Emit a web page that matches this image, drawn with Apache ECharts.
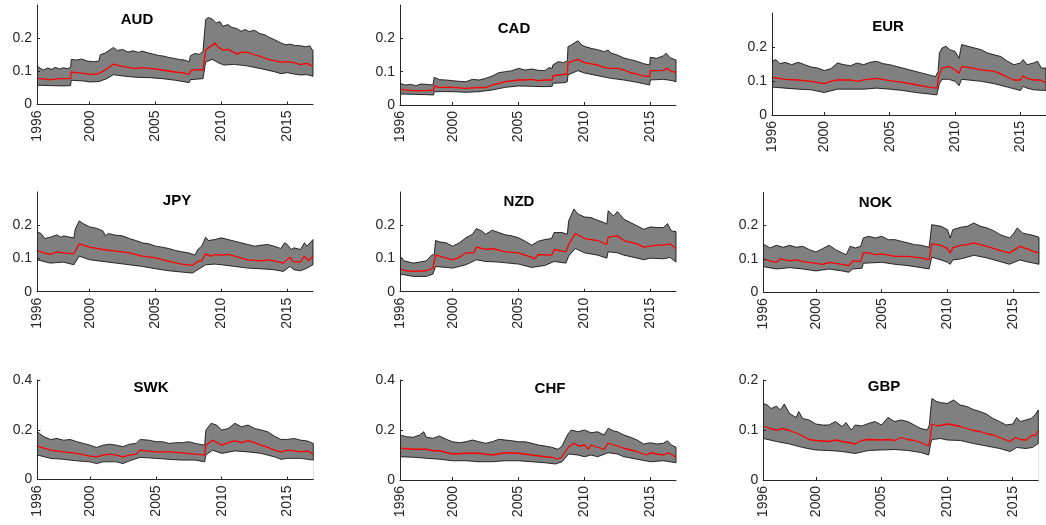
<!DOCTYPE html>
<html>
<head>
<meta charset="utf-8">
<script src="https://cdn.jsdelivr.net/npm/echarts@6/dist/echarts.min.js"></script>
<style>
  html, body { margin: 0; padding: 0; background: #fff; }
  #chart { width: 1046px; height: 525px; }
</style>
</head>
<body>
<div id="chart"></div>
<script>
// Year tick labels shared by every panel
const YEAR_TICKS = [1996, 2000, 2005, 2010, 2015];
const X_START = 1996;
const X_END = 2016.95;

// ---- AUD ----
const AUD_HIGH = [[1996.0,0.116],[1996.3,0.108],[1996.5,0.104],[1996.8,0.110],[1997.1,0.106],[1997.4,0.112],[1997.7,0.107],[1998.0,0.111],[1998.3,0.108],[1998.55,0.112],[1998.6,0.136],[1999.0,0.134],[1999.4,0.137],[1999.8,0.131],[2000.3,0.129],[2000.7,0.131],[2000.8,0.150],[2001.2,0.156],[2001.5,0.164],[2001.8,0.172],[2002.1,0.163],[2002.5,0.166],[2002.9,0.158],[2003.3,0.162],[2003.7,0.157],[2004.0,0.161],[2004.4,0.156],[2004.8,0.152],[2005.2,0.148],[2005.6,0.146],[2006.0,0.142],[2006.4,0.139],[2006.8,0.136],[2007.2,0.134],[2007.55,0.129],[2007.65,0.147],[2008.0,0.154],[2008.3,0.151],[2008.6,0.160],[2008.75,0.165],[2008.8,0.256],[2009.0,0.262],[2009.3,0.258],[2009.6,0.246],[2009.9,0.250],[2010.1,0.236],[2010.5,0.241],[2010.8,0.232],[2011.1,0.230],[2011.5,0.221],[2011.8,0.226],[2012.1,0.220],[2012.5,0.224],[2012.9,0.214],[2013.3,0.210],[2013.6,0.203],[2014.0,0.196],[2014.3,0.190],[2014.6,0.184],[2014.9,0.180],[2015.2,0.182],[2015.6,0.178],[2016.0,0.177],[2016.4,0.174],[2016.7,0.177],[2016.95,0.162]];
const AUD_MID = [[1996.0,0.079],[1996.5,0.077],[1997.0,0.074],[1997.5,0.077],[1998.0,0.078],[1998.55,0.079],[1998.6,0.098],[1999.0,0.096],[1999.5,0.094],[2000.0,0.091],[2000.6,0.092],[2001.0,0.100],[2001.4,0.110],[2001.8,0.122],[2002.2,0.117],[2002.6,0.114],[2003.0,0.111],[2003.5,0.109],[2004.0,0.111],[2004.5,0.109],[2005.0,0.107],[2005.5,0.104],[2006.0,0.101],[2006.5,0.098],[2007.0,0.096],[2007.55,0.091],[2007.65,0.102],[2008.0,0.105],[2008.6,0.104],[2008.75,0.108],[2008.8,0.164],[2009.2,0.176],[2009.5,0.185],[2009.8,0.172],[2010.1,0.164],[2010.5,0.166],[2010.9,0.158],[2011.2,0.152],[2011.5,0.158],[2012.0,0.157],[2012.5,0.150],[2013.0,0.144],[2013.5,0.137],[2014.0,0.132],[2014.5,0.128],[2015.0,0.129],[2015.5,0.126],[2016.0,0.120],[2016.5,0.124],[2016.95,0.115]];
const AUD_LOW = [[1996.0,0.058],[1997.0,0.057],[1998.0,0.056],[1998.55,0.057],[1998.6,0.073],[1999.5,0.071],[2000.0,0.068],[2000.7,0.069],[2001.3,0.078],[2001.8,0.090],[2002.5,0.086],[2003.5,0.082],[2004.5,0.081],[2005.5,0.078],[2006.5,0.073],[2007.55,0.066],[2007.65,0.075],[2008.6,0.078],[2008.75,0.082],[2008.8,0.128],[2009.3,0.136],[2009.8,0.125],[2010.2,0.119],[2011.0,0.121],[2012.0,0.116],[2013.0,0.108],[2014.0,0.099],[2014.5,0.093],[2015.0,0.096],[2015.5,0.092],[2016.0,0.089],[2016.5,0.090],[2016.95,0.085]];

// ---- CAD ----
const CAD_HIGH = [[1996.0,0.065],[1996.4,0.060],[1996.8,0.062],[1997.2,0.058],[1997.6,0.063],[1998.0,0.062],[1998.5,0.060],[1998.55,0.062],[1998.6,0.083],[1999.0,0.076],[1999.5,0.075],[2000.0,0.073],[2000.5,0.071],[2001.0,0.070],[2001.5,0.077],[2002.0,0.075],[2002.5,0.080],[2003.0,0.087],[2003.5,0.097],[2004.0,0.100],[2004.5,0.103],[2005.0,0.110],[2005.5,0.105],[2006.0,0.108],[2006.5,0.104],[2007.0,0.103],[2007.3,0.112],[2007.55,0.110],[2007.6,0.120],[2008.0,0.130],[2008.4,0.127],[2008.7,0.132],[2008.75,0.175],[2009.0,0.180],[2009.5,0.193],[2009.8,0.180],[2010.0,0.176],[2010.5,0.170],[2011.0,0.166],[2011.5,0.160],[2011.8,0.165],[2012.0,0.156],[2012.5,0.150],[2013.0,0.141],[2013.5,0.136],[2014.0,0.131],[2014.5,0.124],[2014.95,0.120],[2015.0,0.143],[2015.5,0.140],[2016.0,0.148],[2016.2,0.155],[2016.5,0.142],[2016.95,0.135]];
const CAD_MID = [[1996.0,0.047],[1997.0,0.043],[1998.0,0.043],[1998.55,0.045],[1998.6,0.057],[1999.0,0.053],[2000.0,0.053],[2001.0,0.050],[2002.0,0.053],[2002.5,0.052],[2003.0,0.060],[2003.5,0.065],[2004.0,0.070],[2005.0,0.075],[2005.5,0.075],[2006.0,0.077],[2006.5,0.073],[2007.0,0.075],[2007.55,0.075],[2007.6,0.087],[2008.0,0.090],[2008.7,0.093],[2008.75,0.127],[2009.0,0.130],[2009.5,0.137],[2010.0,0.127],[2011.0,0.120],[2011.5,0.113],[2012.0,0.110],[2012.5,0.110],[2013.0,0.105],[2013.5,0.097],[2014.0,0.093],[2014.5,0.087],[2014.95,0.085],[2015.0,0.103],[2015.5,0.103],[2016.0,0.104],[2016.3,0.110],[2016.5,0.103],[2016.95,0.097]];
const CAD_LOW = [[1996.0,0.033],[1997.0,0.032],[1998.0,0.031],[1998.55,0.030],[1998.6,0.040],[2000.0,0.040],[2001.0,0.038],[2002.0,0.040],[2003.0,0.045],[2004.0,0.053],[2005.0,0.057],[2006.0,0.056],[2007.0,0.055],[2007.55,0.056],[2007.6,0.065],[2008.5,0.067],[2008.7,0.070],[2008.75,0.090],[2009.5,0.103],[2010.0,0.096],[2011.0,0.088],[2012.0,0.080],[2013.0,0.075],[2014.0,0.068],[2014.95,0.060],[2015.0,0.075],[2016.0,0.077],[2016.5,0.074],[2016.95,0.070]];

// ---- EUR ----
const EUR_HIGH = [[1996.0,0.158],[1996.3,0.163],[1996.6,0.151],[1997.0,0.155],[1997.5,0.148],[1998.0,0.155],[1998.5,0.148],[1999.0,0.141],[1999.5,0.138],[2000.0,0.131],[2000.5,0.136],[2001.0,0.153],[2001.5,0.148],[2002.0,0.145],[2002.5,0.153],[2003.0,0.148],[2003.5,0.155],[2004.0,0.158],[2004.5,0.151],[2005.0,0.148],[2005.5,0.143],[2006.0,0.138],[2006.5,0.133],[2007.0,0.128],[2007.5,0.123],[2008.0,0.118],[2008.5,0.113],[2008.7,0.128],[2008.8,0.182],[2009.0,0.197],[2009.3,0.202],[2009.6,0.192],[2010.0,0.187],[2010.3,0.167],[2010.5,0.207],[2011.0,0.202],[2011.5,0.197],[2012.0,0.192],[2012.5,0.182],[2013.0,0.177],[2013.5,0.172],[2014.0,0.158],[2014.5,0.148],[2015.0,0.153],[2015.2,0.163],[2015.5,0.148],[2016.0,0.153],[2016.3,0.158],[2016.6,0.138],[2016.95,0.138]];
const EUR_MID = [[1996.0,0.111],[1997.0,0.105],[1998.0,0.103],[1999.0,0.099],[2000.0,0.092],[2000.5,0.099],[2001.0,0.103],[2002.0,0.103],[2002.5,0.099],[2003.0,0.103],[2004.0,0.108],[2005.0,0.101],[2006.0,0.096],[2007.0,0.089],[2008.0,0.082],[2008.6,0.079],[2008.75,0.115],[2009.0,0.138],[2009.5,0.143],[2010.0,0.133],[2010.3,0.123],[2010.5,0.143],[2011.0,0.140],[2012.0,0.133],[2013.0,0.128],[2013.5,0.121],[2014.0,0.111],[2014.5,0.103],[2015.0,0.103],[2015.2,0.115],[2015.5,0.108],[2016.0,0.103],[2016.5,0.103],[2016.95,0.094]];
const EUR_LOW = [[1996.0,0.082],[1997.0,0.079],[1998.0,0.076],[1999.0,0.074],[2000.0,0.066],[2001.0,0.076],[2002.0,0.076],[2003.0,0.076],[2004.0,0.079],[2005.0,0.076],[2006.0,0.072],[2007.0,0.066],[2008.0,0.062],[2008.6,0.059],[2008.8,0.092],[2009.0,0.105],[2009.5,0.105],[2010.0,0.099],[2010.3,0.086],[2010.5,0.105],[2011.0,0.103],[2012.0,0.099],[2013.0,0.092],[2014.0,0.082],[2015.0,0.072],[2015.2,0.084],[2015.5,0.079],[2016.0,0.074],[2016.95,0.072]];

// ---- JPY ----
const JPY_HIGH = [[1996.0,0.181],[1996.3,0.175],[1996.6,0.160],[1997.0,0.164],[1997.5,0.171],[1997.8,0.164],[1998.0,0.168],[1998.5,0.164],[1998.8,0.162],[1998.9,0.188],[1999.2,0.213],[1999.5,0.205],[2000.0,0.195],[2000.5,0.191],[2001.0,0.183],[2001.2,0.168],[2001.4,0.175],[2002.0,0.170],[2002.5,0.168],[2003.0,0.160],[2003.5,0.154],[2004.0,0.147],[2004.5,0.144],[2005.0,0.137],[2005.5,0.134],[2006.0,0.130],[2006.5,0.124],[2007.0,0.120],[2007.5,0.117],[2008.0,0.110],[2008.2,0.127],[2008.5,0.137],[2008.8,0.164],[2009.0,0.154],[2009.5,0.157],[2010.0,0.162],[2010.5,0.157],[2011.0,0.152],[2011.5,0.147],[2012.0,0.142],[2012.5,0.137],[2013.0,0.140],[2013.5,0.142],[2014.0,0.137],[2014.5,0.130],[2014.8,0.147],[2015.0,0.142],[2015.3,0.127],[2015.5,0.132],[2016.0,0.127],[2016.3,0.147],[2016.5,0.137],[2016.95,0.157]];
const JPY_MID = [[1996.0,0.124],[1996.5,0.117],[1997.0,0.112],[1997.5,0.120],[1998.0,0.117],[1998.8,0.114],[1999.2,0.144],[1999.5,0.140],[2000.0,0.134],[2001.0,0.127],[2002.0,0.122],[2003.0,0.117],[2004.0,0.107],[2005.0,0.102],[2006.0,0.091],[2007.0,0.083],[2007.8,0.079],[2008.2,0.091],[2008.5,0.093],[2008.8,0.114],[2009.2,0.107],[2009.5,0.112],[2010.0,0.110],[2010.5,0.112],[2011.0,0.107],[2012.0,0.096],[2013.0,0.093],[2013.5,0.096],[2014.0,0.093],[2014.7,0.086],[2015.2,0.104],[2015.4,0.091],[2016.0,0.089],[2016.3,0.107],[2016.6,0.093],[2016.95,0.107]];
const JPY_LOW = [[1996.0,0.096],[1997.0,0.086],[1998.0,0.089],[1998.8,0.081],[1999.2,0.107],[2000.0,0.096],[2001.0,0.091],[2002.0,0.086],[2003.0,0.081],[2004.0,0.076],[2005.0,0.069],[2006.0,0.063],[2007.0,0.059],[2007.8,0.056],[2008.2,0.066],[2008.8,0.081],[2009.5,0.083],[2010.0,0.081],[2011.0,0.076],[2012.0,0.071],[2013.0,0.069],[2014.0,0.066],[2014.7,0.061],[2015.2,0.076],[2015.5,0.066],[2016.0,0.063],[2016.5,0.071],[2016.95,0.081]];

// ---- NZD ----
const NZD_HIGH = [[1996.0,0.107],[1996.3,0.093],[1996.7,0.089],[1997.0,0.086],[1997.5,0.089],[1998.0,0.093],[1998.4,0.110],[1998.6,0.112],[1998.7,0.154],[1999.0,0.150],[1999.5,0.147],[2000.0,0.137],[2000.5,0.147],[2001.0,0.162],[2001.5,0.173],[2001.8,0.190],[2002.2,0.183],[2002.5,0.173],[2003.0,0.185],[2003.5,0.178],[2004.0,0.171],[2004.5,0.168],[2005.0,0.162],[2005.5,0.152],[2006.0,0.140],[2006.5,0.152],[2007.0,0.157],[2007.5,0.160],[2007.7,0.178],[2008.3,0.178],[2008.7,0.173],[2008.8,0.213],[2009.2,0.249],[2009.5,0.234],[2010.0,0.225],[2010.5,0.223],[2011.0,0.215],[2011.5,0.208],[2011.7,0.203],[2011.8,0.244],[2012.2,0.228],[2012.5,0.241],[2013.0,0.218],[2013.5,0.208],[2014.0,0.198],[2014.5,0.188],[2015.0,0.195],[2015.5,0.193],[2016.0,0.193],[2016.3,0.205],[2016.6,0.183],[2016.95,0.181]];
const NZD_MID = [[1996.0,0.069],[1996.5,0.063],[1997.0,0.061],[1998.0,0.063],[1998.5,0.071],[1998.7,0.110],[1999.0,0.107],[2000.0,0.096],[2000.5,0.103],[2001.0,0.117],[2001.6,0.117],[2001.8,0.134],[2002.5,0.127],[2003.0,0.130],[2004.0,0.120],[2005.0,0.117],[2006.0,0.103],[2006.2,0.099],[2006.5,0.112],[2007.5,0.110],[2007.7,0.127],[2008.6,0.120],[2008.8,0.142],[2009.3,0.175],[2010.0,0.160],[2011.0,0.154],[2011.7,0.142],[2011.8,0.164],[2012.5,0.168],[2013.0,0.154],[2014.0,0.144],[2014.5,0.134],[2015.0,0.137],[2015.5,0.140],[2016.0,0.140],[2016.5,0.144],[2016.95,0.130]];
const NZD_LOW = [[1996.0,0.053],[1997.0,0.046],[1998.0,0.046],[1998.5,0.053],[1998.7,0.076],[2000.0,0.071],[2001.0,0.081],[2001.8,0.096],[2002.5,0.091],[2003.5,0.089],[2005.0,0.083],[2006.0,0.073],[2007.0,0.079],[2007.7,0.091],[2008.6,0.086],[2008.8,0.107],[2009.3,0.130],[2010.0,0.117],[2011.0,0.110],[2011.7,0.101],[2011.8,0.120],[2012.5,0.117],[2013.0,0.110],[2014.0,0.101],[2014.5,0.096],[2015.0,0.101],[2016.0,0.099],[2016.5,0.103],[2016.95,0.089]];

// ---- NOK ----
const NOK_HIGH = [[1996.0,0.145],[1996.5,0.133],[1997.0,0.141],[1997.5,0.135],[1998.0,0.141],[1998.5,0.135],[1999.0,0.138],[1999.5,0.128],[2000.0,0.121],[2000.5,0.131],[2001.0,0.141],[2001.5,0.128],[2002.0,0.118],[2002.3,0.113],[2002.6,0.138],[2003.0,0.133],[2003.4,0.138],[2003.6,0.163],[2004.0,0.168],[2004.5,0.163],[2005.0,0.168],[2005.5,0.158],[2006.0,0.158],[2006.5,0.153],[2007.0,0.148],[2007.5,0.143],[2008.0,0.141],[2008.6,0.135],[2008.8,0.203],[2009.5,0.198],[2010.0,0.188],[2010.2,0.163],[2010.4,0.188],[2011.0,0.195],[2011.5,0.198],[2012.0,0.208],[2012.5,0.198],[2013.0,0.193],[2013.5,0.185],[2014.0,0.173],[2014.7,0.163],[2015.0,0.175],[2015.3,0.193],[2015.7,0.178],[2016.0,0.175],[2016.5,0.171],[2016.95,0.165]];
const NOK_MID = [[1996.0,0.100],[1996.5,0.094],[1997.0,0.090],[1997.3,0.100],[1998.0,0.094],[1998.5,0.097],[1999.0,0.092],[2000.0,0.087],[2000.5,0.084],[2001.0,0.090],[2002.0,0.084],[2002.5,0.080],[2002.8,0.094],[2003.4,0.092],[2003.6,0.118],[2004.0,0.118],[2004.5,0.113],[2005.0,0.115],[2006.0,0.108],[2007.0,0.108],[2008.0,0.103],[2008.6,0.097],[2008.8,0.145],[2009.5,0.141],[2010.0,0.131],[2010.2,0.118],[2010.4,0.134],[2011.0,0.141],[2011.5,0.143],[2012.0,0.148],[2012.5,0.143],[2013.0,0.138],[2014.0,0.125],[2014.7,0.118],[2015.0,0.125],[2015.5,0.138],[2016.0,0.131],[2016.5,0.123],[2016.95,0.118]];
const NOK_LOW = [[1996.0,0.077],[1997.0,0.070],[1998.0,0.074],[1999.0,0.070],[2000.0,0.064],[2001.0,0.070],[2002.0,0.064],[2002.5,0.060],[2002.8,0.070],[2003.5,0.072],[2003.6,0.087],[2005.0,0.090],[2006.0,0.084],[2007.0,0.080],[2008.0,0.074],[2008.6,0.070],[2008.8,0.105],[2009.5,0.097],[2010.0,0.090],[2010.2,0.084],[2010.4,0.097],[2011.0,0.100],[2012.0,0.111],[2013.0,0.103],[2014.0,0.092],[2014.7,0.084],[2015.5,0.097],[2016.0,0.092],[2016.95,0.084]];

// ---- SWK ----
const SWK_HIGH = [[1996.0,0.192],[1996.5,0.172],[1997.0,0.161],[1997.5,0.165],[1998.0,0.158],[1998.5,0.161],[1999.0,0.152],[1999.5,0.145],[2000.0,0.138],[2000.5,0.129],[2001.0,0.138],[2001.5,0.142],[2002.0,0.138],[2002.5,0.132],[2003.0,0.142],[2003.5,0.145],[2003.8,0.161],[2004.5,0.158],[2005.0,0.152],[2005.5,0.152],[2006.0,0.145],[2006.5,0.148],[2007.0,0.148],[2007.5,0.152],[2008.0,0.145],[2008.7,0.138],[2008.8,0.199],[2009.2,0.226],[2009.6,0.219],[2010.0,0.199],[2010.5,0.205],[2011.0,0.226],[2011.5,0.212],[2012.0,0.219],[2012.5,0.205],[2013.0,0.199],[2013.5,0.192],[2014.0,0.174],[2014.5,0.161],[2015.0,0.161],[2015.5,0.165],[2016.0,0.158],[2016.5,0.155],[2016.95,0.145]];
const SWK_MID = [[1996.0,0.134],[1997.0,0.118],[1998.0,0.111],[1999.0,0.105],[2000.0,0.094],[2000.5,0.091],[2001.0,0.098],[2001.5,0.102],[2002.0,0.098],[2002.5,0.091],[2003.0,0.098],[2003.5,0.102],[2003.8,0.118],[2005.0,0.111],[2006.0,0.111],[2007.0,0.107],[2008.0,0.102],[2008.7,0.098],[2008.8,0.138],[2009.3,0.158],[2010.0,0.138],[2010.5,0.148],[2011.0,0.156],[2011.5,0.148],[2012.0,0.156],[2012.5,0.148],[2013.0,0.138],[2013.5,0.129],[2014.0,0.118],[2014.5,0.111],[2015.0,0.118],[2015.5,0.115],[2016.0,0.111],[2016.5,0.115],[2016.95,0.102]];
const SWK_LOW = [[1996.0,0.098],[1997.0,0.085],[1998.0,0.081],[1999.0,0.075],[2000.0,0.071],[2000.5,0.064],[2001.0,0.071],[2002.0,0.071],[2002.5,0.064],[2003.0,0.075],[2003.8,0.089],[2005.0,0.085],[2006.0,0.081],[2007.0,0.078],[2008.0,0.078],[2008.7,0.071],[2008.8,0.098],[2009.3,0.118],[2010.0,0.105],[2011.0,0.115],[2012.0,0.111],[2013.0,0.105],[2014.0,0.091],[2014.5,0.081],[2015.0,0.085],[2016.0,0.085],[2016.95,0.078]];

// ---- CHF ----
const CHF_HIGH = [[1996.0,0.180],[1996.5,0.173],[1997.0,0.171],[1997.5,0.180],[1997.8,0.193],[1998.0,0.171],[1998.5,0.167],[1999.0,0.176],[1999.5,0.163],[2000.0,0.153],[2000.5,0.149],[2001.0,0.153],[2001.5,0.160],[2002.0,0.153],[2002.5,0.147],[2003.0,0.153],[2003.5,0.163],[2004.0,0.160],[2004.5,0.157],[2005.0,0.153],[2005.5,0.153],[2006.0,0.147],[2006.5,0.140],[2007.0,0.136],[2007.5,0.131],[2008.0,0.123],[2008.3,0.136],[2008.7,0.180],[2009.0,0.200],[2009.5,0.193],[2010.0,0.200],[2010.5,0.189],[2011.0,0.193],[2011.5,0.180],[2011.8,0.207],[2012.2,0.197],[2012.5,0.193],[2013.0,0.180],[2013.5,0.171],[2014.0,0.160],[2014.5,0.144],[2015.0,0.149],[2015.5,0.144],[2016.0,0.147],[2016.3,0.157],[2016.6,0.140],[2016.95,0.131]];
const CHF_MID = [[1996.0,0.127],[1997.0,0.123],[1998.0,0.123],[1998.5,0.117],[1999.0,0.117],[2000.0,0.104],[2001.0,0.107],[2002.0,0.107],[2003.0,0.100],[2004.0,0.109],[2005.0,0.107],[2006.0,0.100],[2007.0,0.093],[2007.5,0.091],[2008.0,0.083],[2008.3,0.093],[2008.8,0.133],[2009.2,0.147],[2009.6,0.136],[2010.0,0.140],[2010.3,0.123],[2010.5,0.140],[2011.0,0.131],[2011.5,0.123],[2011.8,0.147],[2012.5,0.136],[2013.0,0.127],[2014.0,0.113],[2014.7,0.100],[2015.0,0.109],[2015.5,0.104],[2016.0,0.100],[2016.4,0.109],[2016.95,0.091]];
const CHF_LOW = [[1996.0,0.093],[1997.0,0.091],[1998.0,0.087],[1999.0,0.083],[2000.0,0.077],[2001.0,0.077],[2002.0,0.073],[2003.0,0.073],[2004.0,0.077],[2005.0,0.077],[2006.0,0.073],[2007.0,0.069],[2007.8,0.064],[2008.3,0.073],[2008.8,0.104],[2009.5,0.100],[2010.0,0.093],[2010.5,0.100],[2011.0,0.093],[2011.8,0.109],[2012.5,0.104],[2013.0,0.093],[2014.0,0.083],[2015.0,0.073],[2016.0,0.077],[2016.95,0.069]];

// ---- GBP ----
const GBP_HIGH = [[1996.0,0.153],[1996.3,0.150],[1996.6,0.143],[1997.0,0.148],[1997.3,0.140],[1997.6,0.152],[1998.0,0.133],[1998.5,0.125],[1998.7,0.137],[1999.0,0.123],[1999.5,0.120],[2000.0,0.112],[2000.5,0.110],[2001.0,0.110],[2001.5,0.117],[2002.0,0.107],[2002.3,0.115],[2002.7,0.100],[2003.0,0.110],[2003.5,0.108],[2004.0,0.113],[2004.5,0.117],[2005.0,0.110],[2005.5,0.125],[2006.0,0.117],[2006.5,0.120],[2007.0,0.117],[2007.5,0.110],[2008.0,0.103],[2008.5,0.100],[2008.65,0.110],[2008.75,0.140],[2008.85,0.163],[2009.2,0.157],[2009.5,0.155],[2010.0,0.153],[2010.5,0.160],[2011.0,0.150],[2011.5,0.147],[2012.0,0.141],[2012.5,0.137],[2013.0,0.132],[2013.5,0.123],[2014.0,0.117],[2014.5,0.110],[2015.0,0.112],[2015.3,0.125],[2015.6,0.117],[2016.0,0.120],[2016.4,0.123],[2016.7,0.130],[2016.95,0.140]];
const GBP_MID = [[1996.0,0.108],[1996.5,0.103],[1997.0,0.100],[1997.4,0.103],[1998.0,0.099],[1998.6,0.093],[1998.7,0.097],[1999.0,0.088],[1999.5,0.081],[2000.0,0.079],[2001.0,0.077],[2001.5,0.080],[2002.0,0.077],[2002.5,0.075],[2003.0,0.072],[2003.5,0.079],[2004.0,0.081],[2005.0,0.080],[2005.5,0.081],[2006.0,0.079],[2006.5,0.085],[2007.0,0.081],[2007.5,0.079],[2008.0,0.075],[2008.6,0.068],[2008.75,0.090],[2008.85,0.112],[2009.3,0.108],[2010.0,0.112],[2010.5,0.110],[2011.0,0.107],[2011.5,0.103],[2012.0,0.099],[2012.5,0.097],[2013.0,0.093],[2013.5,0.090],[2014.0,0.085],[2014.5,0.080],[2014.8,0.077],[2015.2,0.085],[2015.6,0.081],[2016.0,0.080],[2016.5,0.090],[2016.7,0.088],[2016.95,0.099]];
const GBP_LOW = [[1996.0,0.083],[1997.0,0.077],[1998.0,0.072],[1999.0,0.065],[2000.0,0.060],[2001.0,0.059],[2002.0,0.057],[2003.0,0.053],[2004.0,0.059],[2005.0,0.060],[2006.0,0.061],[2007.0,0.059],[2008.0,0.055],[2008.6,0.050],[2008.75,0.073],[2008.85,0.081],[2009.5,0.083],[2010.0,0.080],[2011.0,0.079],[2012.0,0.073],[2013.0,0.068],[2014.0,0.063],[2014.8,0.057],[2015.3,0.065],[2016.0,0.063],[2016.5,0.065],[2016.95,0.073]];

// Y tick sets
const Y_TICKS_02 = [0, 0.1, 0.2];
const Y_TICKS_04 = [0, 0.2, 0.4];

// Panel layout: plot box in pixels, y range, ticks and label placement
const panels = [
  { name: 'AUD', high: AUD_HIGH, mid: AUD_MID, low: AUD_LOW, box: [37, 5, 276, 99.5],    ymax: 0.3, yticks: Y_TICKS_02, label: [137, 20] },
  { name: 'CAD', high: CAD_HIGH, mid: CAD_MID, low: CAD_LOW, box: [400, 5, 276, 100],    ymax: 0.3, yticks: Y_TICKS_02, label: [514, 29] },
  { name: 'EUR', high: EUR_HIGH, mid: EUR_MID, low: EUR_LOW, box: [772, 13, 275.5, 102], ymax: 0.3, yticks: Y_TICKS_02, label: [888, 27] },
  { name: 'JPY', high: JPY_HIGH, mid: JPY_MID, low: JPY_LOW, box: [37, 192, 276, 99.7],  ymax: 0.3, yticks: Y_TICKS_02, label: [177, 201] },
  { name: 'NZD', high: NZD_HIGH, mid: NZD_MID, low: NZD_LOW, box: [400, 192, 276, 99.7], ymax: 0.3, yticks: Y_TICKS_02, label: [519, 202] },
  { name: 'NOK', high: NOK_HIGH, mid: NOK_MID, low: NOK_LOW, box: [763.3, 192.3, 275.7, 100], ymax: 0.3, yticks: Y_TICKS_02, label: [875.5, 203] },
  { name: 'SWK', high: SWK_HIGH, mid: SWK_MID, low: SWK_LOW, box: [37.3, 380, 276, 99.5], ymax: 0.4, yticks: Y_TICKS_04, label: [151, 388] },
  { name: 'CHF', high: CHF_HIGH, mid: CHF_MID, low: CHF_LOW, box: [400, 380, 276, 100],  ymax: 0.4, yticks: Y_TICKS_04, label: [550, 389] },
  { name: 'GBP', high: GBP_HIGH, mid: GBP_MID, low: GBP_LOW, box: [763.3, 380, 275, 100], ymax: 0.2, yticks: Y_TICKS_02, label: [884, 387] }
];

const FONT = "'Liberation Sans', Arial, Helvetica, sans-serif";
const AXIS_COLOR = '#262626';

const grid = [], xAxis = [], yAxis = [], series = [], graphic = [];

panels.forEach((p, i) => {
  const [left, top, width, height] = p.box;
  grid.push({ left, top, width, height, containLabel: false });

  xAxis.push({
    type: 'value', gridIndex: i, min: X_START, max: X_END, z: 10,
    splitLine: { show: false },
    axisLine: { show: true, lineStyle: { color: AXIS_COLOR, width: 1 } },
    axisTick: { show: true, inside: true, length: 3, customValues: YEAR_TICKS, lineStyle: { color: AXIS_COLOR } },
    axisLabel: {
      customValues: YEAR_TICKS, rotate: 90, margin: 6,
      color: AXIS_COLOR, fontSize: 14, fontFamily: FONT,
      formatter: v => String(v)
    }
  });

  yAxis.push({
    type: 'value', gridIndex: i, min: 0, max: p.ymax, z: 10,
    splitLine: { show: false },
    axisLine: { show: true, onZero: false, lineStyle: { color: AXIS_COLOR, width: 1 } },
    axisTick: { show: true, inside: true, length: 3, customValues: p.yticks, lineStyle: { color: AXIS_COLOR } },
    axisLabel: {
      customValues: p.yticks, margin: 5,
      color: AXIS_COLOR, fontSize: 14, fontFamily: FONT,
      formatter: v => String(v)
    }
  });

  // upper bound: grey fill down to zero, black edge
  series.push({
    type: 'line', xAxisIndex: i, yAxisIndex: i, data: p.high,
    symbol: 'none', silent: true, z: 2,
    lineStyle: { color: '#000', width: 0.8 },
    areaStyle: { color: '#808080', opacity: 1 }
  });
  // lower bound: white fill clears below the band, black edge
  series.push({
    type: 'line', xAxisIndex: i, yAxisIndex: i, data: p.low,
    symbol: 'none', silent: true, z: 3,
    lineStyle: { color: '#000', width: 0.8 },
    areaStyle: { color: '#ffffff', opacity: 1 }
  });
  // closing edge of the band at the last observation
  const lastHigh = p.high[p.high.length - 1];
  const lastLow = p.low[p.low.length - 1];
  series.push({
    type: 'line', xAxisIndex: i, yAxisIndex: i,
    data: [lastLow, lastHigh], symbol: 'none', silent: true, z: 3,
    lineStyle: { color: '#000', width: 0.8 }
  });
  // median line
  series.push({
    type: 'line', xAxisIndex: i, yAxisIndex: i, data: p.mid,
    symbol: 'none', silent: true, z: 4,
    lineStyle: { color: '#ff0000', width: 1.3 }
  });

  graphic.push({
    type: 'text', x: p.label[0], y: p.label[1], z: 20,
    style: {
      text: p.name, fill: '#000',
      font: 'bold 15px ' + FONT,
      textAlign: 'center', textVerticalAlign: 'middle'
    }
  });
});

const chart = echarts.init(document.getElementById('chart'), null, { renderer: 'canvas' });
chart.setOption({
  animation: false,
  backgroundColor: '#ffffff',
  grid, xAxis, yAxis, series, graphic
});
</script>
</body>
</html>
